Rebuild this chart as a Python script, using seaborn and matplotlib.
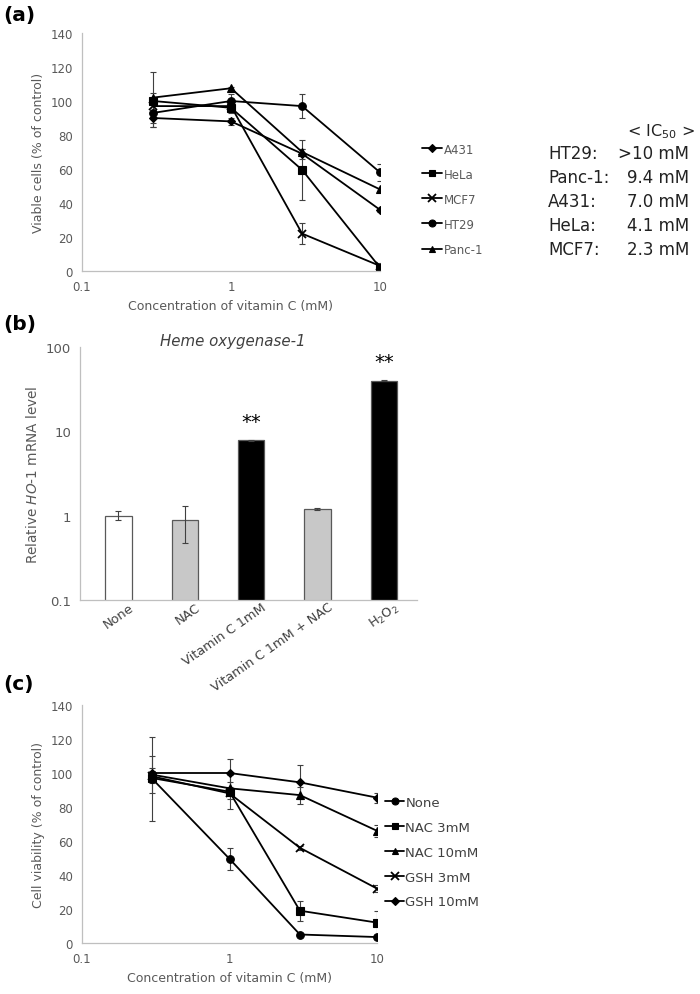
import numpy as np
import pandas as pd
import seaborn as sns
import matplotlib.pyplot as plt
from matplotlib.lines import Line2D
from matplotlib.transforms import ScaledTranslation

# ---------------- data ----------------
conc = [0.3, 1, 3, 10]

# panel (a) - viable cells (% of control)
a_lines = ["A431", "HeLa", "MCF7", "HT29", "Panc-1"]
a431 = [90, 88, 69, 36]
hela = [100, 96, 59.5, 2]
mcf7 = [97, 97, 22, 3]
ht29 = [93, 100, 97, 58]
panc1 = [102, 107.5, 70, 48]
a431_err = [5, 2, 3, 1]
hela_err = [5, 3, 17.5, 1]
mcf7_err = [4, 2, 6, 2]
ht29_err = [8, 4, 7, 5]
panc1_err = [15, 1, 2, 1]

ic50_lines = ["HT29:", "Panc-1:", "A431:", "HeLa:", "MCF7:"]
ic50_vals = [">10 mM", "9.4 mM", "7.0 mM", "4.1 mM", "2.3 mM"]

# panel (b) - HO-1 mRNA
b_groups = ["None", "NAC", "Vitamin C 1mM", "Vitamin C 1mM + NAC", "H$_2$O$_2$"]
b_vals = [1.0, 0.9, 7.8, 1.2, 40]
b_err_lo = [0.12, 0.42, 0.1, 0.02, 1]
b_err_hi = [0.13, 0.4, 0.1, 0.02, 1]
b_colors = ["white", "#c8c8c8", "black", "#c8c8c8", "black"]
b_stars = [2, 4]

# panel (c) - cell viability
c_lines = ["None", "NAC 3mM", "NAC 10mM", "GSH 3mM", "GSH 10mM"]
c_none = [96.5, 49.5, 5, 3.5]
c_nac3 = [97, 89, 19, 12]
c_nac10 = [99, 91, 87, 66]
c_gsh3 = [98, 88, 56, 32]
c_gsh10 = [100, 100, 94.5, 85.5]
c_none_err = [24.5, 6.5, 1, 1]
c_nac3_err = [3, 10, 6, 7]
c_nac10_err = [11, 4, 5, 3.5]
c_gsh3_err = [3, 3, 1, 2]
c_gsh10_err = [3, 8, 10, 3]

sns.set_style("white")
plt.rcParams["font.family"] = ["DejaVu Sans"]
plt.rcParams["mathtext.fontset"] = "dejavusans"

AX_COL = "#bfbfbf"
TXT_COL = "#595959"

fig = plt.figure(figsize=(7, 9.95), dpi=100)


def px(l, t, r, b):
    return [l / 700, 1 - b / 995, (r - l) / 700, (b - t) / 995]


def style_ax(ax):
    for s in ["top", "right"]:
        ax.spines[s].set_visible(False)
    for s in ["left", "bottom"]:
        ax.spines[s].set_color(AX_COL)
        ax.spines[s].set_linewidth(0.9)
    ax.tick_params(colors=AX_COL, labelcolor=TXT_COL, length=3, width=0.8,
                   labelsize=8.5, which="major")
    ax.tick_params(which="minor", length=0)


markers = {"A431": "D", "HeLa": "s", "MCF7": "x", "HT29": "o", "Panc-1": "^",
           "None": "o", "NAC 3mM": "s", "NAC 10mM": "^", "GSH 3mM": "x", "GSH 10mM": "D"}
msize = {"D": 4.5, "s": 5.5, "x": 6, "o": 5.5, "^": 5.5}


def line_panel(ax, names, vals, errs, ylabel):
    df = pd.DataFrame({
        "conc": conc * len(names),
        "val": np.concatenate(vals),
        "line": np.repeat(names, len(conc)),
    })
    for name in names:
        sub = df[df["line"] == name]
        m = markers[name]
        sns.lineplot(data=sub, x="conc", y="val", ax=ax, color="black",
                     marker=m, markersize=msize[m], markeredgecolor="black",
                     markeredgewidth=1.3 if m == "x" else 0.8,
                     linewidth=1.3, legend=False)
    for v, e in zip(vals, errs):
        ax.errorbar(conc, v, yerr=e, fmt="none", ecolor="#404040",
                    elinewidth=0.8, capsize=2.2, capthick=0.8, zorder=1)
    ax.set_xscale("log")
    ax.set_xlim(0.1, 10)
    ax.set_ylim(0, 140)
    ax.set_xticks([0.1, 1, 10])
    ax.set_xticklabels(["0.1", "1", "10"])
    ax.set_yticks(range(0, 141, 20))
    ax.set_xlabel("Concentration of vitamin C (mM)", fontsize=9, color=TXT_COL)
    ax.set_ylabel(ylabel, fontsize=9, color=TXT_COL)
    style_ax(ax)


def handles(names):
    hs = []
    for n in names:
        m = markers[n]
        hs.append(Line2D([0], [0], color="black", lw=1.3, marker=m,
                         markersize=msize[m] - 0.5, markeredgecolor="black",
                         markeredgewidth=1.3 if m == "x" else 0.8))
    return hs


# ---------------- (a) ----------------
ax_a = fig.add_axes(px(82, 34, 380, 272))
line_panel(ax_a, a_lines, [a431, hela, mcf7, ht29, panc1],
           [a431_err, hela_err, mcf7_err, ht29_err, panc1_err],
           "Viable cells (% of control)")
fig.legend(handles(a_lines), a_lines, loc="upper left",
           bbox_to_anchor=(422 / 700, 1 - 143.5 / 995), frameon=False,
           fontsize=8.5, labelcolor=TXT_COL, handlelength=1.7, handletextpad=0.15,
           labelspacing=1.02, borderpad=0, borderaxespad=0)

fig.text(661 / 700, 1 - 132 / 995, "< IC$_{50}$ >", ha="center", va="center",
         fontsize=11.5, color="#222222")
for i, (nm, v) in enumerate(zip(ic50_lines, ic50_vals)):
    y = 1 - (154 + i * 24) / 995
    fig.text(548 / 700, y, nm, ha="left", va="center", fontsize=12, color="#222222")
    fig.text(689 / 700, y, v, ha="right", va="center", fontsize=12, color="#222222")

# ---------------- (b) ----------------
ax_b = fig.add_axes(px(80, 348, 417, 601))
ax_b.set_yscale("log")
df_b = pd.DataFrame({"group": b_groups, "val": b_vals})
sns.barplot(data=df_b, x="group", y="val", hue="group", palette=b_colors,
            width=0.4, edgecolor="#595959", linewidth=0.9, legend=False,
            errorbar=None, ax=ax_b)
ax_b.errorbar(range(len(b_vals)), b_vals, yerr=[b_err_lo, b_err_hi], fmt="none",
              ecolor="#404040", elinewidth=0.8, capsize=2.2, capthick=0.8)
ax_b.set_ylim(0.1, 100)
ax_b.set_xlim(-0.58, 4.5)
ax_b.set_yticks([0.1, 1, 10, 100])
ax_b.set_yticklabels(["0.1", "1", "10", "100"])
ax_b.set_xlabel("")
ax_b.set_ylabel("Relative $\\mathit{HO}$-$\\mathit{1}$ mRNA level", fontsize=9.8,
                color=TXT_COL)
style_ax(ax_b)
ax_b.tick_params(axis="y", labelsize=9.5)
ax_b.tick_params(axis="x", length=0, pad=4)
shift = ScaledTranslation(0.14, 0, fig.dpi_scale_trans)
for t in ax_b.get_xticklabels():
    t.set_rotation(35)
    t.set_ha("right")
    t.set_va("center")
    t.set_rotation_mode("anchor")
    t.set_fontsize(9.3)
    t.set_color("#404040")
    t.set_transform(t.get_transform() + shift)
for i in b_stars:
    ax_b.text(i, b_vals[i] * 1.3, "**", ha="center", va="bottom", fontsize=14,
              color="black")
fig.text(233 / 700, 1 - 342 / 995, "Heme oxygenase-1", style="italic",
         ha="center", va="center", fontsize=10.8, color="#404040")

# ---------------- (c) ----------------
ax_c = fig.add_axes(px(82, 706, 377, 944))
line_panel(ax_c, c_lines, [c_none, c_nac3, c_nac10, c_gsh3, c_gsh10],
           [c_none_err, c_nac3_err, c_nac10_err, c_gsh3_err, c_gsh10_err],
           "Cell viability (% of control)")
fig.legend(handles(c_lines), c_lines, loc="upper left",
           bbox_to_anchor=(385 / 700, 1 - 797 / 995), frameon=False,
           fontsize=9.5, labelcolor="#404040", handlelength=1.45, handletextpad=0.1,
           labelspacing=0.9, borderpad=0, borderaxespad=0)

# panel letters
for lab, y in [("(a)", 15), ("(b)", 325), ("(c)", 685)]:
    fig.text(3 / 700, 1 - y / 995, lab, ha="left", va="center", fontsize=14.5,
             fontweight="bold", color="black")

fig.savefig("out.png", dpi=100)
